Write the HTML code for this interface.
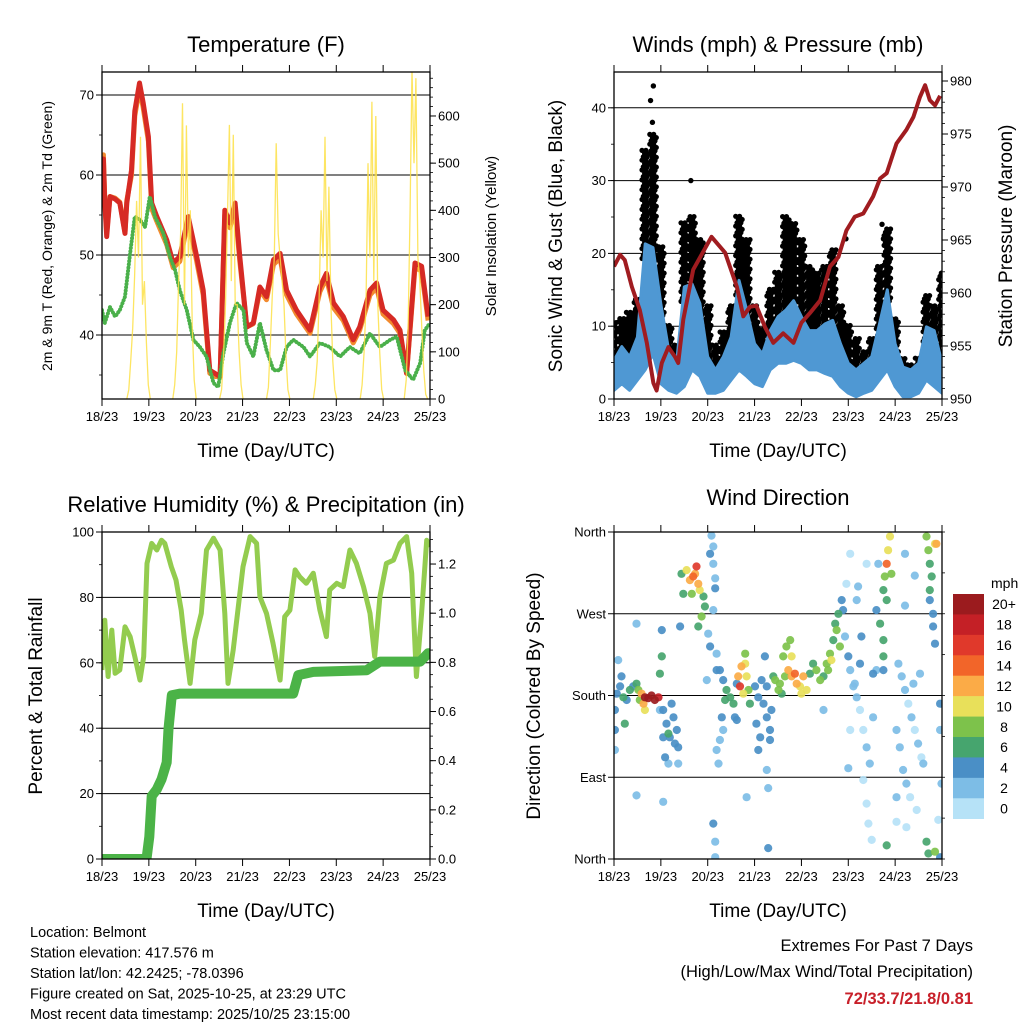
<!DOCTYPE html>
<html><head><meta charset="utf-8">
<style>
html,body{margin:0;padding:0;background:#fff;}
svg{display:block;font-family:"Liberation Sans",Arial,sans-serif;}
</style></head>
<body>
<svg id="chart" width="1024" height="1024" viewBox="0 0 1024 1024" xmlns="http://www.w3.org/2000/svg">
<rect width="1024" height="1024" fill="#fff"/>
</svg>
<script>
// ---------- DATA ----------
const dayTickLabels = ["18/23","19/23","20/23","21/23","22/23","23/23","24/23","25/23"];
// Temperature (days since start, degF)
const tempTimes = [0,0.03,0.06,0.10,0.17,0.28,0.38,0.49,0.53,0.63,0.70,0.80,0.88,0.99,1.06,1.17,1.38,1.52,1.66,1.84,2.02,2.16,2.30,2.41,2.52,2.62,2.73,2.84,2.94,3.09,3.23,3.37,3.51,3.66,3.80,3.94,4.15,4.44,4.65,4.79,4.94,5.15,5.36,5.50,5.72,5.86,6.00,6.22,6.36,6.50,6.68,6.82,6.96];
const tempRed = [59,62,56.5,52.3,57.3,57,56.5,52.7,56.5,60.6,68,71.5,69,64.8,56.5,54.8,51.9,49,49.8,54.8,49.8,45.6,35.6,35.2,34.8,55.6,54,56.5,49.8,41,41.5,46,44.8,49.4,50.2,45.6,43.1,40.6,46,47.7,44,42.3,39.4,41,45.6,46.5,43.1,41.9,40.6,35.2,49,48.6,42.3];
const tempOrange = [61,62.7,57,53,57.5,57.3,56.8,53,57,60.2,67.6,71,68.6,64.4,56,54.4,51.5,48.6,49.4,54.6,49.4,45.2,35.4,35,35,55.2,53.6,56,49.4,41.2,41.6,45.8,44.6,49,49.8,45.2,42.8,40.4,45.6,47.3,43.6,42,39.2,40.8,45.2,46.1,42.8,41.6,40.4,35.4,48.6,48.2,42];
const dewTimes = [0,0.06,0.17,0.28,0.38,0.49,0.60,0.70,0.81,0.92,1.02,1.13,1.31,1.45,1.56,1.66,1.81,1.95,2.09,2.23,2.38,2.48,2.59,2.73,2.87,3.02,3.09,3.23,3.37,3.51,3.66,3.80,3.94,4.08,4.30,4.44,4.65,4.86,5.08,5.29,5.50,5.72,5.93,6.15,6.29,6.47,6.64,6.79,6.89,7.0];
const dewVals = [43.1,41.5,43.5,42.3,43.1,44.8,50.2,54.8,54.4,53.5,57.3,54.8,52.7,49.8,48.1,45.6,43.1,39.4,38.5,37.3,34,33.5,37.7,41.5,44,43.1,39,37.3,41.5,38.1,35.6,35.6,38.5,39.4,38.5,37.3,39,38.5,37.3,38.5,37.7,40.2,38.5,39.4,39.8,35.6,34.4,36.5,40.6,41.5];
// Solar insolation (W/m2): daily solar-noon centres and hourly values from -6h..+6h
const solarCenters = [0.78,1.76,2.76,3.76,4.76,5.76,6.70];
const solarDay0 = [0,20,80,150,260,420,300,556,200,250,120,30,0];
const solarDay1 = [0,30,100,250,350,627,200,580,300,400,150,40,0];
const solarDay2 = [0,20,90,200,380,581,250,560,200,200,100,30,0];
const solarDay3 = [0,25,120,220,300,542,350,300,250,200,90,20,0];
const solarDay4 = [0,30,80,220,400,300,556,250,450,200,80,20,0];
const solarDay5 = [0,30,100,200,500,300,630,250,600,200,100,20,0];
const solarDay6 = [0,40,150,400,700,500,680,300,250,150,60,10,0];
// Winds (mph), 4-hourly samples
const windHigh = [5.3,7.2,5.8,8.5,21.3,20.8,13,6.7,4.9,15.4,15.8,13.1,5.8,4,5.8,8.5,16.3,12.2,7.6,6.2,9.4,11.3,12.2,13.5,11.3,9.4,9.4,10.3,10.8,7.6,4.9,4,4.9,5.8,10.3,15,7.6,4.4,4,4.9,9.9,9.4,4.9];
const windLow = [1.2,2.1,1.2,2.6,4,6.2,2.1,1.2,0.8,1.7,4,3.1,0.8,0.8,1.2,2.6,4,3.1,2.1,1.7,4,4.9,4.9,5.3,4.9,4,4,3.5,3.1,1.7,0.8,0.3,0.8,1.2,2.6,4,1.7,0.3,0.3,0.8,2.6,1.7,0.8];
const gustHigh = [10.8,11.3,12.2,14,34.5,36.8,21,10.3,7.6,24.5,25.4,22.2,13.1,7.6,9.4,13.1,25.4,22.2,13.1,9.9,15.4,17.6,25.4,24.5,22.2,18.5,17.6,18.5,20.8,13.1,10.3,8.5,6.7,8.5,18.5,23.5,11.3,5.8,4.9,5.8,14.4,13.1,17.6];
const gustExtraTimes = [0.78,0.84,1.64,0.82,4.95,5.72,5.75];
const gustExtraVals = [41,43,30,38,22,24,22];
// Station pressure (mb)
const presTimes = [0,0.13,0.23,0.38,0.55,0.70,0.84,0.91,1.02,1.16,1.30,1.37,1.48,1.69,2.08,2.37,2.62,2.76,2.90,3.04,3.22,3.40,3.61,3.83,4.00,4.18,4.40,4.61,4.79,4.96,5.14,5.32,5.53,5.68,5.82,6.03,6.24,6.39,6.53,6.64,6.74,6.85,6.96];
const presVals = [962.5,963.6,963.1,960.6,958.4,955.3,951.5,950.8,953.4,954.9,954,953.4,957.5,962.2,965.3,963.8,960.6,957.8,958.7,958.8,956.8,955.3,956.2,955.3,957.2,958.1,959.3,962.5,963.4,965.9,967.2,967.5,969.1,970.8,971.3,974.1,975.4,976.6,978.5,979.6,978.2,977.7,978.6];
// Relative humidity (%)
const rhTimes = [0,0.06,0.13,0.21,0.28,0.38,0.49,0.60,0.70,0.81,0.89,0.96,1.06,1.17,1.27,1.34,1.48,1.58,1.69,1.76,1.88,1.98,2.12,2.23,2.38,2.52,2.62,2.69,2.80,2.90,3.01,3.16,3.30,3.37,3.51,3.65,3.80,3.90,4.01,4.12,4.22,4.36,4.51,4.65,4.79,4.86,5.01,5.15,5.29,5.43,5.58,5.72,5.82,5.93,6.07,6.22,6.36,6.50,6.61,6.71,6.82,6.93,7.0];
const rhVals = [57.8,73,55.8,70,56.8,57.8,71,68,61.9,54.7,61.9,90.4,96.5,94.5,97.5,96.5,89.4,85.3,76.1,67,53.7,67,75.1,94.5,98.1,94.5,75.1,53.7,63.9,76.1,89.4,98.6,96.5,80.2,75.1,66,54.7,74.1,76.1,88.4,86.3,84.3,87.4,76.1,68,82.3,84.3,83.3,94.5,90.4,83.3,75.1,61.9,80.2,90.4,91.4,96.5,98.6,87.4,55.8,75.1,97.5,95.5];
// Total precipitation (in)
const precipTimes = [0,0.95,1.01,1.06,1.17,1.27,1.38,1.42,1.49,1.66,4.08,4.19,4.51,5.65,5.93,6.79,6.96,7.0];
const precipVals = [0,0,0.09,0.256,0.283,0.324,0.393,0.529,0.666,0.673,0.673,0.748,0.761,0.768,0.803,0.803,0.837,0.837];
// Wind direction observations (time, degrees, speed mph)
const dirTimes = [0.02,0.02,0.06,0.13,0.20,0.27,0.34,0.41,0.48,0.52,0.02,0.09,0.48,0.23,0.16,0.48,0.55,
 0.66,0.73,0.80,0.87,0.95,0.63,0.66,0.59,
 1.05,1.12,1.19,1.27,1.34,1.37,1.09,1.16,1.30,1.05,1.23,0.98,1.02,0.98,1.02,1.05,1.16,1.37,
 1.44,1.48,1.55,1.62,1.69,1.76,1.80,1.83,1.66,1.91,1.94,1.87,1.80,1.41,1.73,
 2.08,2.12,2.05,2.12,2.16,2.16,2.12,2.01,2.05,2.19,2.19,1.98,2.12,2.16,2.16,2.19,2.23,2.26,
 2.26,2.33,2.40,2.48,2.55,2.37,2.58,2.30,2.33,2.62,2.62,
 2.65,2.72,2.80,2.83,2.69,2.76,2.87,2.80,2.90,
 3.01,3.08,3.15,3.19,3.26,3.33,3.04,3.12,3.26,3.36,3.26,3.29,3.29,3.40,3.22,3.08,3.33,2.83,
 3.44,3.51,3.58,3.61,3.68,3.76,3.72,3.79,3.86,3.90,3.97,4.04,4.11,4.00,3.65,3.54,3.79,
 4.18,4.25,4.32,4.40,4.47,4.54,4.61,4.68,4.75,4.82,4.72,4.79,4.64,4.57,4.47,4.86,4.89,
 4.93,5.00,5.04,5.11,5.18,5.25,5.32,5.39,5.46,5.32,5.39,5.43,5.50,5.04,4.96,5.04,5.18,5.39,5.21,5.28,5.53,5.00,5.14,5.25,5.53,
 5.60,5.68,5.75,5.75,5.82,5.85,5.89,5.92,5.82,5.75,5.78,5.60,5.75,5.64,5.82,
 6.07,6.14,6.21,6.28,6.35,6.42,6.49,6.56,6.17,6.24,6.32,6.46,6.60,6.10,6.03,6.03,6.03,6.24,6.39,6.53,6.21,6.42,6.21,
 6.67,6.71,6.74,6.78,6.74,6.74,6.85,6.81,6.81,6.85,6.88,6.96,6.96,6.99,6.67,6.71,6.96,6.85,6.92];
const dirDegs = [164,142,182,190,178,175,186,190,193,186,120,219,259,149,201,70,175,
 178,177,180,175,178,171,164,182,
 164,149,134,156,142,123,112,105,127,134,171,164,252,204,223,63,138,105,
 314,292,318,307,311,322,303,296,292,289,278,267,256,256,314,
 356,344,336,325,309,298,274,248,234,226,208,197,39,19,2,120,105,131,
 208,197,186,178,171,175,156,156,142,193,153,
 201,212,215,201,190,182,186,226,171,
 190,178,197,171,156,142,149,134,190,164,98,78,12,201,223,120,131,68,
 197,186,182,223,234,241,208,201,204,193,190,201,186,182,201,193,223,
 204,215,208,197,201,215,226,241,252,234,259,270,219,208,164,285,274,
 245,223,208,190,178,164,142,123,105,87,61,39,21,142,303,336,285,325,300,245,156,100,193,215,204,
 274,259,241,223,325,340,355,314,285,296,311,208,208,325,15,
 215,201,186,171,156,142,127,112,98,83,68,54,105,123,142,68,41,35,193,204,336,312,279,
 355,340,325,311,296,285,347,270,256,237,347,171,142,83,19,6,2,8,43];
const dirSpeeds = [4,4,4,4,6,4,6,4,6,8,2,2,2,6,4,2,8,
 20,20,20,20,18,12,10,12,
 4,4,4,4,4,4,4,2,4,4,4,2,4,6,6,2,6,2,
 6,6,10,12,14,16,12,10,8,6,6,8,6,4,12,
 2,2,4,2,2,4,2,2,4,2,4,2,4,2,2,2,2,2,
 4,4,6,6,6,6,4,4,2,4,4,
 12,12,10,10,16,10,8,8,6,
 4,4,4,4,4,4,4,4,4,4,2,2,4,6,4,4,4,2,
 8,8,6,8,8,8,12,12,14,12,10,12,10,10,8,8,10,
 6,6,8,8,6,8,8,6,8,8,6,6,10,8,2,4,4,
 2,4,2,2,2,0,0,2,2,0,0,0,0,0,0,0,2,0,2,4,2,2,2,4,4,
 4,6,6,6,14,10,10,8,6,6,8,2,4,2,6,
 2,2,2,0,2,0,2,0,2,2,0,0,2,2,2,2,0,0,2,2,2,2,2,
 8,8,6,6,6,4,10,4,4,4,12,4,2,2,6,6,4,8,0];
const speedLabels = ["0","2","4","6","8","10","12","14","16","18","20+"];
const speedColors = ["#b6e2f7","#7dbde6","#4a8fc6","#46a56e","#7dc24b","#e8e05a","#fbab47","#f26529","#e0392b","#c42026","#9b1b1e"];
const tempTicks = [40,50,60,70];
const solarTicks = [0,100,200,300,400,500,600];
const windTicks = [0,10,20,30,40];
const presTicks = [950,955,960,965,970,975,980];
const rhTicks = [0,20,40,60,80,100];
const precipTicks = [0.0,0.2,0.4,0.6,0.8,1.0,1.2];
const dirTickDegs = [0,90,180,270,360];
const dirTickLabels = ["North","East","South","West","North"];

// ---------- HELPERS ----------
const NS = "http://www.w3.org/2000/svg";
const svg = document.getElementById('chart');
function mk(tag, attrs, parent){
  const e = document.createElementNS(NS, tag);
  for (const k in attrs) e.setAttribute(k, attrs[k]);
  (parent || svg).appendChild(e);
  return e;
}
function txt(s, attrs, parent){ const e = mk('text', attrs, parent); e.textContent = s; return e; }
function grp(){ return mk('g', {}); }

const P1 = {x0:102,x1:430,y0:72,y1:399};
const P2 = {x0:614,x1:942,y0:72,y1:399};
const P3 = {x0:102,x1:430,y0:532,y1:859};
const P4 = {x0:614,x1:942,y0:532,y1:859};
function sx(P, d){ return P.x0 + (P.x1-P.x0)*d/7; }
const tY = v => 335 - (v-40)*8;
const sY = w => 399 - w*0.4717;
const wY = v => 399 - v*7.28;
const pY = p => 399 - (p-950)*10.6;
const rY = v => 859 - v*3.27;
const qY = v => 859 - v*245.8;
const dY = d => 859 - d*327/360;

function pathFrom(P, times, vals, yf){
  let s = "";
  for (let i=0;i<times.length;i++) s += (i?"L":"M") + sx(P,times[i]).toFixed(1) + " " + yf(vals[i]).toFixed(1);
  return s;
}
function clip(P, id){
  const cp = mk('clipPath', {id:id});
  mk('rect', {x:P.x0, y:P.y0, width:P.x1-P.x0, height:P.y1-P.y0}, cp);
}

function frame(P, name){
  const g = grp();
  
  
  mk('rect', {x:P.x0, y:P.y0, width:P.x1-P.x0, height:P.y1-P.y0, fill:'none', stroke:'#000', 'stroke-width':1.3}, g);
  for (let i=0;i<dayTickLabels.length;i++){
    const x = sx(P,i);
    mk('line', {x1:x, y1:P.y1, x2:x, y2:P.y1+7, stroke:'#000', 'stroke-width':1}, g);
    mk('line', {x1:x, y1:P.y0, x2:x, y2:P.y0-7, stroke:'#000', 'stroke-width':1}, g);
    const t = txt(dayTickLabels[i], {x:x, y:P.y1+22, 'text-anchor':'middle', 'font-size':13}, g);
    
    
  }
  const xt = txt('Time (Day/UTC)', {x:(P.x0+P.x1)/2, y:P.y1+58, 'text-anchor':'middle', 'font-size':19}, g);
  
  
  return g;
}
function leftAxis(P, ticks, yf, fmt, labels, name, grid){
  const g = grp();
  
  
  ticks.forEach((v,i)=>{
    const y = yf(v);
    if (grid && y>P.y0+1 && y<P.y1-1) mk('line', {x1:P.x0, y1:y, x2:P.x1, y2:y, stroke:'#000', 'stroke-width':1}, g);
    mk('line', {x1:P.x0-6, y1:y, x2:P.x0, y2:y, stroke:'#000'}, g);
    const t = txt(labels ? labels[i] : fmt(v), {x:P.x0-8, y:y+4.5, 'text-anchor':'end', 'font-size':13}, g);
    
    
  });
}
function rightAxis(P, ticks, yf, fmt, name){
  const g = grp();
  
  
  ticks.forEach(v=>{
    const y = yf(v);
    mk('line', {x1:P.x1, y1:y, x2:P.x1+6, y2:y, stroke:'#000'}, g);
    const t = txt(fmt(v), {x:P.x1+8, y:y+4.5, 'font-size':13}, g);
    
    
  });
}
function minorTicks(P, from, to, step, yf, side){
  for (let v=from; v<=to+1e-9; v+=step){
    const y = yf(v);
    if (y<P.y0-0.5||y>P.y1+0.5) continue;
    if (side==='L') mk('line', {x1:P.x0-3, y1:y, x2:P.x0, y2:y, stroke:'#000','stroke-width':0.8});
    else mk('line', {x1:P.x1, y1:y, x2:P.x1+3, y2:y, stroke:'#000','stroke-width':0.8});
  }
}
function rotText(s, x, y, size, name){
  const t = txt(s, {x:0, y:0, transform:`translate(${x},${y}) rotate(-90)`, 'text-anchor':'middle', 'font-size':size});
  
  
}
function title(s, x, y, name){
  const t = txt(s, {x:x, y:y, 'text-anchor':'middle', 'font-size':22});
  
  
}

// ---------- PANEL 1: TEMPERATURE ----------
clip(P1,'c1');
title('Temperature (F)', 266, 52, 'temperature-title');
leftAxis(P1, tempTicks, tY, v=>v, null, 'temperature-left-axis', true);
minorTicks(P1, 35, 70, 5, tY, 'L');
rightAxis(P1, solarTicks, sY, v=>v, 'solar-right-axis');
minorTicks(P1, 0, 680, 20, sY, 'R');
rotText('2m & 9m T (Red, Orange) & 2m Td (Green)', 52, 236, 14, 'temperature-y-title');
rotText('Solar Insolation (Yellow)', 496, 236, 15, 'solar-y-title');
{
  const g = mk('g', {'clip-path':'url(#c1)'});
  
  
  const o = mk('path', {d:pathFrom(P1,tempTimes,tempOrange,tY), fill:'none', stroke:'#f28a2e', 'stroke-width':5, 'stroke-linejoin':'round', transform:'translate(0,1.5)'}, g);
  
  
  const r = mk('path', {d:pathFrom(P1,tempTimes,tempRed,tY), fill:'none', stroke:'#d62a24', 'stroke-width':5, 'stroke-linejoin':'round'}, g);
  
  
  const gr = mk('path', {d:pathFrom(P1,dewTimes,dewVals,tY), fill:'none', stroke:'#4ab04a', 'stroke-width':4, 'stroke-linecap':'round', 'stroke-dasharray':'0.1 3.2'}, g);
  
  
  const solarDays = [solarDay0,solarDay1,solarDay2,solarDay3,solarDay4,solarDay5,solarDay6];
  solarCenters.forEach((c,k)=>{
    const vals = solarDays[k];
    const times = vals.map((_,h)=> c + (h-6)/24);
    const y = mk('path', {d:pathFrom(P1,times,vals,sY), fill:'none', stroke:'#fde047', 'stroke-width':1.3, opacity:0.85, 'stroke-linejoin':'miter'}, g);
    
    
  });
}
frame(P1,'temperature');

// ---------- PANEL 2: WINDS ----------
clip(P2,'c2');
title('Winds (mph) & Pressure (mb)', 778, 52, 'winds-title');
leftAxis(P2, windTicks, wY, v=>v, null, 'wind-left-axis', true);
minorTicks(P2, 0, 45, 5, wY, 'L');
rightAxis(P2, presTicks, pY, v=>v, 'pressure-right-axis');
minorTicks(P2, 950, 980, 1, pY, 'R');
rotText('Sonic Wind & Gust (Blue, Black)', 562, 236, 19, 'wind-y-title');
rotText('Station Pressure (Maroon)', 1012, 236, 19, 'pressure-y-title');
{
  const g = mk('g', {'clip-path':'url(#c2)'});
  
  
  const step = 4/24;
  // gust dots
  for (let i=0;i<gustHigh.length;i++){
    const t0 = i*step;
    for (let j=0;j<6;j++){
      const t = t0 + (j-2.5)*step/6;
      if (t<0||t>7) continue;
      const lo = Math.max(windHigh[i]-2, 0.5);
      for (let v=lo + (j%3)*0.45; v<=gustHigh[i]; v+=1.35){
        const c = mk('circle', {cx:sx(P2,t).toFixed(1), cy:wY(v).toFixed(1), r:2.6, fill:'#000'}, g);
        
        
      }
    }
  }
  gustExtraTimes.forEach((t,i)=>{
    const c = mk('circle', {cx:sx(P2,t), cy:wY(gustExtraVals[i]), r:2.7, fill:'#000'}, g);
    
    
  });
  // wind band
  let d = "";
  for (let i=0;i<windHigh.length;i++) d += (i?"L":"M") + sx(P2,i*step).toFixed(1) + " " + wY(windHigh[i]).toFixed(1);
  for (let i=windLow.length-1;i>=0;i--) d += "L" + sx(P2,i*step).toFixed(1) + " " + wY(windLow[i]).toFixed(1);
  const b = mk('path', {d:d+"Z", fill:'#4f98d3', stroke:'#4f98d3', 'stroke-width':3, 'stroke-linejoin':'round'}, g);
  
  
  const p = mk('path', {d:pathFrom(P2,presTimes,presVals,pY), fill:'none', stroke:'#a01c20', 'stroke-width':4, 'stroke-linejoin':'round'}, g);
  
  
}
frame(P2,'winds');

// ---------- PANEL 3: RH & PRECIP ----------
clip(P3,'c3');
title('Relative Humidity (%) & Precipitation (in)', 266, 512, 'humidity-title');
leftAxis(P3, rhTicks, rY, v=>v, null, 'humidity-left-axis', true);
minorTicks(P3, 0, 100, 10, rY, 'L');
rightAxis(P3, precipTicks, qY, v=>v.toFixed(1), 'precip-right-axis');
minorTicks(P3, 0, 1.3, 0.05, qY, 'R');
rotText('Percent & Total Rainfall', 42, 696, 19, 'humidity-y-title');
{
  const g = mk('g', {'clip-path':'url(#c3)'});
  
  
  const rh = mk('path', {d:pathFrom(P3,rhTimes,rhVals,rY), fill:'none', stroke:'#93cc4f', 'stroke-width':5, 'stroke-linejoin':'round'}, g);
  
  
  const pr = mk('path', {d:pathFrom(P3,precipTimes,precipVals,qY), fill:'none', stroke:'#4bb347', 'stroke-width':10, 'stroke-linejoin':'round', 'stroke-linecap':'round'}, g);
  
  
}
frame(P3,'humidity');

// ---------- PANEL 4: WIND DIRECTION ----------
clip(P4,'c4');
title('Wind Direction', 778, 505, 'wind-direction-title');
leftAxis(P4, dirTickDegs, dY, null, dirTickLabels, 'direction-left-axis', true);
minorTicks(P4, 0, 360, 45, dY, 'R');
rotText('Direction (Colored By Speed)', 540, 696, 19, 'direction-y-title');
{
  const g = mk('g', {'clip-path':'url(#c4)'});
  
  
  const order = dirTimes.map((_,i)=>i).sort((a,b)=>dirSpeeds[a]-dirSpeeds[b]);
  order.forEach(i=>{
    const idx = Math.min(10, Math.floor(dirSpeeds[i]/2));
    const c = mk('circle', {cx:sx(P4,dirTimes[i]).toFixed(1), cy:dY(dirDegs[i]).toFixed(1), r:4.1, fill:speedColors[idx], opacity:0.92}, g);
    
    
  });
}
frame(P4,'direction');
// colour bar
{
  const g = grp();
  
  
  const t = txt('mph', {x:991, y:588, 'font-size':14}, g);
  
  
  const top = 594, h = 224.7/speedColors.length;
  for (let k=0;k<speedColors.length;k++){
    const idx = speedColors.length-1-k;
    const r = mk('rect', {x:953, y:top+k*h, width:31, height:h+0.3, fill:speedColors[idx]}, g);
    
    
    const l = txt(speedLabels[idx], {x:1004, y:top+k*h+h/2+5, 'text-anchor':'middle', 'font-size':14}, g);
    
    
  }
}

// ---------- FOOTER ----------
{
  const lines = ["Location: Belmont","Station elevation: 417.576 m","Station lat/lon: 42.2425; -78.0396","Figure created on Sat, 2025-10-25, at 23:29 UTC","Most recent data timestamp: 2025/10/25 23:15:00"];
  const g = grp();
  
  
  lines.forEach((s,i)=>{
    const t = txt(s, {x:30, y:937+i*20.5, 'font-size':14.5}, g);
    
    
  });
  const g2 = grp();
  
  
  const a = txt('Extremes For Past 7 Days', {x:973, y:951, 'text-anchor':'end', 'font-size':16.5}, g2);
  
  
  const b = txt('(High/Low/Max Wind/Total Precipitation)', {x:973, y:977, 'text-anchor':'end', 'font-size':16.5}, g2);
  
  
  const c = txt('72/33.7/21.8/0.81', {x:973, y:1004, 'text-anchor':'end', 'font-size':16.5, 'font-weight':'bold', fill:'#c8202a'}, g2);
  
  
}
</script>
</body></html>
